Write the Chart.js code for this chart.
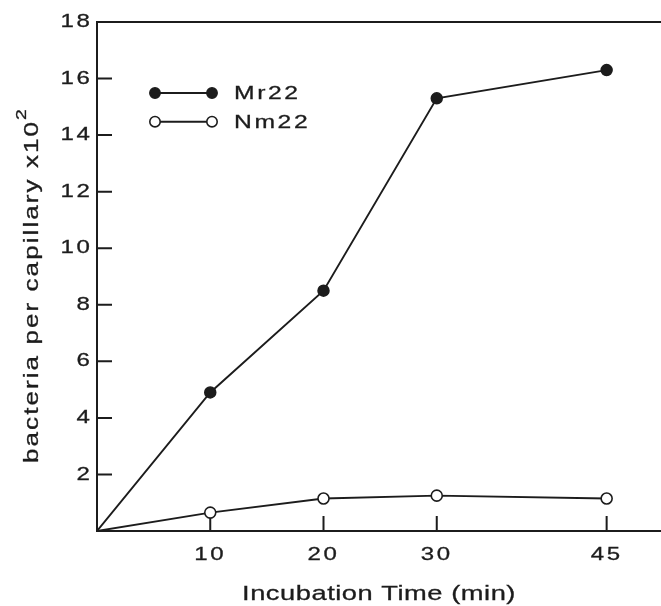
<!DOCTYPE html>
<html>
<head>
<meta charset="utf-8">
<script src="https://cdn.jsdelivr.net/npm/chart.js@4"></script>
<style>
  html, body { margin: 0; padding: 0; background: #ffffff; }
  #wrap { width: 661px; height: 606px; }
</style>
</head>
<body>
<div id="wrap"><canvas id="c" width="661" height="606"></canvas></div>
<script>
// ---- data ----
const timeMin = [0, 10, 20, 30, 45];
const mr22 = [0, 4.9, 8.5, 15.3, 16.3];
const nm22 = [0, 0.65, 1.15, 1.25, 1.15];
const xTickValues = [10, 20, 30, 45];
const yTickValues = [2, 4, 6, 8, 10, 12, 14, 16, 18];
const seriesLabels = ['Mr22', 'Nm22'];
const xTitle = 'Incubation Time (min)';
const yTitle = 'bacteria per capillary x10';
const yTitleSup = '2';

const INK = '#1c1c1c';
const FONT = '"Liberation Sans", Arial, Helvetica, sans-serif';
const SX = 1.3; // horizontal stretch of the (extended) typeface
const TEXT_STROKE = 0.3;

function pts(vals) { return timeMin.map((t, i) => ({ x: t, y: vals[i] })); }
const radii = timeMin.map(t => (t === 0 ? 0 : 5.5));

function installStretch(ctx) {
  if (ctx.__stretched) return;
  ['fillText', 'strokeText'].forEach(fn => {
    const orig = ctx[fn];
    ctx[fn] = function (text, x, y, maxWidth) {
      this.save();
      this.translate(x, y);
      this.scale(SX, 1);
      if (maxWidth !== undefined && maxWidth !== null) orig.call(this, text, 0, 0, maxWidth / SX);
      else orig.call(this, text, 0, 0);
      this.restore();
    };
  });
  ctx.__stretched = true;
}

function boldText(ctx, text, x, y) {
  ctx.lineWidth = TEXT_STROKE;
  ctx.strokeStyle = INK;
  ctx.strokeText(text, x, y);
  ctx.fillText(text, x, y);
}

const decor = {
  id: 'decor',
  beforeDraw(chart) {
    installStretch(chart.ctx);
    chart.ctx.letterSpacing = '2px';
  },
  beforeDatasetsDraw(chart) {
    const { ctx, chartArea: a, scales: { x, y } } = chart;
    ctx.save();
    ctx.strokeStyle = INK;
    ctx.lineWidth = 2;
    ctx.beginPath();
    ctx.moveTo(a.left - 1, a.top); ctx.lineTo(a.right, a.top);
    ctx.moveTo(a.left, a.top); ctx.lineTo(a.left, a.bottom);
    ctx.lineTo(a.right, a.bottom);
    yTickValues.forEach(v => {
      if (v === y.max) return;
      const p = y.getPixelForValue(v);
      ctx.moveTo(a.left, p); ctx.lineTo(a.left + 15, p);
    });
    xTickValues.forEach(v => {
      const p = x.getPixelForValue(v);
      ctx.moveTo(p, a.bottom); ctx.lineTo(p, a.bottom - 15);
    });
    ctx.stroke();
    ctx.restore();
  },
  afterDraw(chart) {
    const { ctx, chartArea: a } = chart;
    ctx.save();
    // legend
    const lx = a.left + 58, ly = a.top + 71, rowH = 28.7, lineLen = 57;
    chart.data.datasets.forEach((ds, i) => {
      const yy = ly + i * rowH;
      ctx.strokeStyle = ds.borderColor;
      ctx.lineWidth = ds.borderWidth;
      ctx.beginPath(); ctx.moveTo(lx, yy); ctx.lineTo(lx + lineLen, yy); ctx.stroke();
      [lx, lx + lineLen].forEach(cx => {
        ctx.beginPath();
        ctx.arc(cx, yy, 5.2, 0, Math.PI * 2);
        ctx.fillStyle = ds.pointBackgroundColor;
        ctx.fill();
        ctx.lineWidth = ds.pointBorderWidth;
        ctx.strokeStyle = ds.pointBorderColor;
        ctx.stroke();
      });
      ctx.fillStyle = INK;
      ctx.font = '19px ' + FONT;
      ctx.letterSpacing = '2px';
      ctx.textAlign = 'left';
      ctx.textBaseline = 'middle';
      boldText(ctx, ds.label, lx + lineLen + 22, yy + 1);
    });
    // x title
    ctx.font = '21px ' + FONT;
    ctx.letterSpacing = '0.4px';
    ctx.textAlign = 'center';
    ctx.textBaseline = 'alphabetic';
    ctx.fillStyle = INK;
    boldText(ctx, xTitle, (a.left + a.right) / 2, 600);
    // y title (rotated, with superscript)
    ctx.letterSpacing = '1.6px';
    ctx.font = '20px ' + FONT;
    const w1 = ctx.measureText(yTitle).width * SX;
    ctx.font = '15px ' + FONT;
    const w2 = ctx.measureText(yTitleSup).width * SX;
    ctx.translate(38, 285);
    ctx.rotate(-Math.PI / 2);
    ctx.textAlign = 'left';
    const start = -(w1 + w2) / 2;
    ctx.font = '20px ' + FONT;
    boldText(ctx, yTitle, start, 0);
    ctx.font = '15px ' + FONT;
    boldText(ctx, yTitleSup, start + w1, -12);
    ctx.restore();
  }
};

new Chart(document.getElementById('c'), {
  type: 'scatter',
  data: {
    datasets: [
      {
        label: seriesLabels[0],
        data: pts(mr22),
        showLine: true,
        borderColor: INK,
        borderWidth: 1.9,
        pointRadius: radii,
        pointHoverRadius: radii,
        pointBackgroundColor: INK,
        pointBorderColor: INK,
        pointBorderWidth: 1.5
      },
      {
        label: seriesLabels[1],
        data: pts(nm22),
        showLine: true,
        borderColor: INK,
        borderWidth: 1.9,
        pointRadius: radii,
        pointHoverRadius: radii,
        pointBackgroundColor: '#ffffff',
        pointBorderColor: INK,
        pointBorderWidth: 1.6
      }
    ]
  },
  options: {
    responsive: false,
    animation: false,
    devicePixelRatio: 1,
    layout: { autoPadding: false, padding: { top: 22, right: 0, left: 0, bottom: 0 } },
    plugins: { legend: { display: false }, tooltip: { enabled: false } },
    scales: {
      x: {
        type: 'linear',
        min: 0,
        max: 49.8,
        grid: { display: false, drawTicks: false },
        border: { display: false },
        afterBuildTicks: s => { s.ticks = xTickValues.map(v => ({ value: v })); },
        afterFit: s => { s.height = 75; s.paddingLeft = 0; s.paddingRight = 0; },
        ticks: { color: INK, font: { family: FONT, size: 18.5 }, padding: 13, maxRotation: 0, autoSkip: false,
                 textStrokeWidth: TEXT_STROKE, textStrokeColor: INK }
      },
      y: {
        type: 'linear',
        min: 0,
        max: 18,
        grid: { display: false, drawTicks: false },
        border: { display: false },
        afterBuildTicks: s => { s.ticks = yTickValues.map(v => ({ value: v })); },
        afterFit: s => { s.width = 97; s.paddingTop = 0; s.paddingBottom = 0; },
        ticks: { color: INK, font: { family: FONT, size: 18.5 }, padding: 4.5,
                 textStrokeWidth: TEXT_STROKE, textStrokeColor: INK }
      }
    }
  },
  plugins: [decor]
});
</script>
</body>
</html>
